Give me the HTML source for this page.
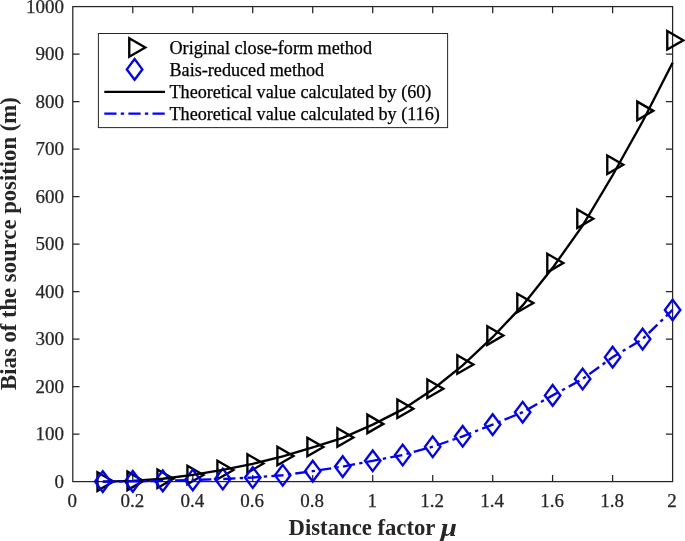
<!DOCTYPE html>
<html><head><meta charset="utf-8"><title>Bias of the source position</title>
<style>html,body{margin:0;padding:0;background:#fff}svg{display:block}</style></head>
<body>
<svg width="685" height="541" viewBox="0 0 685 541">
<rect width="685" height="541" fill="#fff"/>
<g stroke="#262626" stroke-width="1.25" fill="none">
<rect x="72.8" y="6.6" width="599.8" height="475.0"/>
<path d="M132.8 481.6v-6.7M132.8 6.6v6.7"/>
<path d="M192.8 481.6v-6.7M192.8 6.6v6.7"/>
<path d="M252.7 481.6v-6.7M252.7 6.6v6.7"/>
<path d="M312.7 481.6v-6.7M312.7 6.6v6.7"/>
<path d="M372.7 481.6v-6.7M372.7 6.6v6.7"/>
<path d="M432.7 481.6v-6.7M432.7 6.6v6.7"/>
<path d="M492.7 481.6v-6.7M492.7 6.6v6.7"/>
<path d="M552.6 481.6v-6.7M552.6 6.6v6.7"/>
<path d="M612.6 481.6v-6.7M612.6 6.6v6.7"/>
<path d="M72.8 434.10h6.7M672.6 434.10h-6.7"/>
<path d="M72.8 386.60h6.7M672.6 386.60h-6.7"/>
<path d="M72.8 339.10h6.7M672.6 339.10h-6.7"/>
<path d="M72.8 291.60h6.7M672.6 291.60h-6.7"/>
<path d="M72.8 244.10h6.7M672.6 244.10h-6.7"/>
<path d="M72.8 196.60h6.7M672.6 196.60h-6.7"/>
<path d="M72.8 149.10h6.7M672.6 149.10h-6.7"/>
<path d="M72.8 101.60h6.7M672.6 101.60h-6.7"/>
<path d="M72.8 54.10h6.7M672.6 54.10h-6.7"/>
</g>
<g font-family="'Liberation Serif', serif" font-size="19" fill="#262626" stroke="#262626" stroke-width="0.25">
<text x="72.3" y="507" text-anchor="middle">0</text>
<text x="132.3" y="507" text-anchor="middle">0.2</text>
<text x="192.3" y="507" text-anchor="middle">0.4</text>
<text x="252.2" y="507" text-anchor="middle">0.6</text>
<text x="312.2" y="507" text-anchor="middle">0.8</text>
<text x="372.2" y="507" text-anchor="middle">1</text>
<text x="432.2" y="507" text-anchor="middle">1.2</text>
<text x="492.2" y="507" text-anchor="middle">1.4</text>
<text x="552.1" y="507" text-anchor="middle">1.6</text>
<text x="612.1" y="507" text-anchor="middle">1.8</text>
<text x="672.1" y="507" text-anchor="middle">2</text>
<text x="63.9" y="487.8" text-anchor="end">0</text>
<text x="63.9" y="440.3" text-anchor="end">100</text>
<text x="63.9" y="392.8" text-anchor="end">200</text>
<text x="63.9" y="345.3" text-anchor="end">300</text>
<text x="63.9" y="297.8" text-anchor="end">400</text>
<text x="63.9" y="250.3" text-anchor="end">500</text>
<text x="63.9" y="202.8" text-anchor="end">600</text>
<text x="63.9" y="155.3" text-anchor="end">700</text>
<text x="63.9" y="107.8" text-anchor="end">800</text>
<text x="63.9" y="60.3" text-anchor="end">900</text>
<text x="63.9" y="12.8" text-anchor="end">1000</text>
</g>
<g font-family="'Liberation Serif', serif" font-weight="bold" font-size="22.7" fill="#262626">
<text x="288.6" y="535">Distance factor</text>
<text transform="translate(440.8 536) scale(1.28 1.1)" font-style="italic">μ</text>
<text transform="translate(15.6 389.9) rotate(-90)" font-size="22.7">Bias of the source position (m)</text>
</g>
<g fill="none" stroke-width="2.35" stroke-linejoin="miter">
<path stroke="#000" d="M97.45 472.35L113.47 481.60L97.45 490.85ZM127.44 471.64L143.46 480.89L127.44 490.14ZM157.43 469.50L173.45 478.75L157.43 488.00ZM187.42 465.70L203.44 474.95L187.42 484.20ZM217.41 460.71L233.43 469.96L217.41 479.21ZM247.40 454.30L263.42 463.55L247.40 472.80ZM277.39 446.70L293.41 455.95L277.39 465.20ZM307.38 437.68L323.40 446.93L307.38 456.18ZM337.37 428.18L353.39 437.43L337.37 446.68ZM367.36 414.64L383.38 423.89L367.36 433.14ZM397.35 399.53L413.37 408.78L397.35 418.03ZM427.34 379.49L443.36 388.74L427.34 397.99ZM457.33 355.31L473.35 364.56L457.33 373.81ZM487.32 326.34L503.34 335.59L487.32 344.84ZM517.31 293.80L533.33 303.05L517.31 312.30ZM547.30 253.85L563.32 263.10L547.30 272.35ZM577.29 209.44L593.31 218.69L577.29 227.94ZM607.28 155.53L623.30 164.78L607.28 174.03ZM637.27 101.61L653.29 110.86L637.27 120.11ZM667.26 31.08L683.28 40.33L667.26 49.58Z"/>
<path stroke="#0000ff" d="M102.79 471.25L110.54 481.60L102.79 491.95L95.04 481.60ZM132.78 471.01L140.53 481.36L132.78 491.71L125.03 481.36ZM162.77 470.54L170.52 480.89L162.77 491.24L155.02 480.89ZM192.76 469.59L200.51 479.94L192.76 490.29L185.01 479.94ZM222.75 468.64L230.50 478.99L222.75 489.34L215.00 478.99ZM252.74 467.17L260.49 477.52L252.74 487.87L244.99 477.52ZM282.73 464.88L290.48 475.24L282.73 485.59L274.98 475.24ZM312.72 460.80L320.47 471.15L312.72 481.50L304.97 471.15ZM342.71 456.24L350.46 466.59L342.71 476.94L334.96 466.59ZM372.70 450.44L380.45 460.80L372.70 471.15L364.95 460.80ZM402.69 444.65L410.44 455.00L402.69 465.35L394.94 455.00ZM432.68 436.38L440.43 446.74L432.68 457.09L424.93 446.74ZM462.67 425.94L470.42 436.29L462.67 446.64L454.92 436.29ZM492.66 414.25L500.41 424.60L492.66 434.95L484.91 424.60ZM522.65 401.85L530.40 412.20L522.65 422.55L514.90 412.20ZM552.64 385.04L560.39 395.39L552.64 405.74L544.89 395.39ZM582.63 368.65L590.38 379.00L582.63 389.35L574.88 379.00ZM612.62 346.80L620.37 357.15L612.62 367.50L604.87 357.15ZM642.61 328.75L650.36 339.10L642.61 349.45L634.86 339.10ZM672.60 299.59L680.35 309.94L672.60 320.29L664.85 309.94Z"/>
<polyline stroke="#000" points="102.79,481.60 132.78,480.89 162.77,478.75 192.76,474.95 222.75,469.96 252.74,463.79 282.73,456.43 312.72,447.40 342.71,437.90 372.70,424.60 402.69,409.40 432.68,389.45 462.67,365.46 492.66,337.20 522.65,305.38 552.64,267.85 582.63,225.58 612.62,175.23 642.61,121.55 672.60,62.79"/>
<polyline stroke="#0000ff" stroke-dasharray="12.2 4.3 3.3 4.3" points="102.79,481.60 132.78,481.36 162.77,480.89 192.76,479.94 222.75,478.99 252.74,477.52 282.73,475.24 312.72,471.15 342.71,466.59 372.70,460.80 402.69,455.00 432.68,446.74 462.67,436.29 492.66,424.60 522.65,412.20 552.64,395.39 582.63,379.00 612.62,357.15 642.61,339.10 672.60,309.94"/>
</g>
<rect x="98.4" y="33.5" width="349.2" height="94.1" fill="#fff" stroke="#262626" stroke-width="1"/>
<g fill="none" stroke-width="2.35">
<path stroke="#000" d="M129.26 38.25L145.28 47.50L129.26 56.75Z"/>
<path stroke="#0000ff" d="M134.60 59.05L142.35 69.40L134.60 79.75L126.85 69.40Z"/>
<path stroke="#000" d="M104.3 91.9H165"/>
<path stroke="#0000ff" stroke-dasharray="12.2 4.3 3.3 4.3" d="M104.3 113.6H165"/>
</g>
<g font-family="'Liberation Serif', serif" font-size="18.15" fill="#000" stroke="#000" stroke-width="0.25">
<text x="169.5" y="53.6">Original close-form method</text>
<text x="169.5" y="75.6">Bais-reduced method</text>
<text x="169.5" y="97.6">Theoretical value calculated by (60)</text>
<text x="169.5" y="119.6">Theoretical value calculated by (116)</text>
</g>
</svg>
</body></html>
